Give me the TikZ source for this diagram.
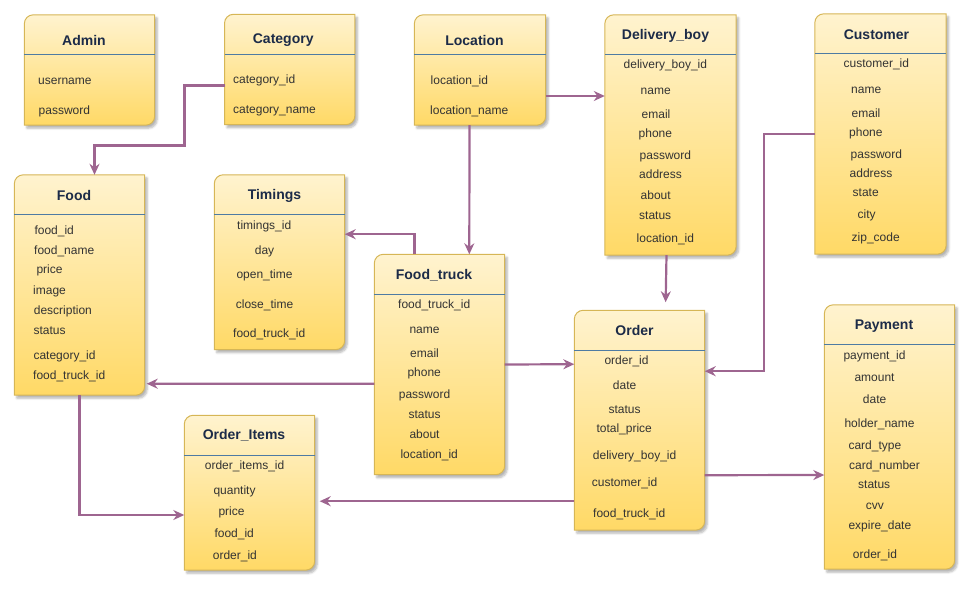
\documentclass[tikz,border=0pt]{standalone}
\usepackage{fontspec}
\setmainfont{Liberation Sans}
\usetikzlibrary{arrows.meta,shadows.blur}
\definecolor{entitytop}{HTML}{FFF3CF}
\definecolor{entitybottom}{HTML}{FFD966}
\definecolor{entityline}{HTML}{D6B656}
\definecolor{sepcolor}{HTML}{4E7BA3}
\definecolor{titlecolor}{HTML}{1C2B48}
\definecolor{attrcolor}{HTML}{333333}
\definecolor{linkcolor}{HTML}{9E6590}
\tikzset{%
  >={Stealth[width=10pt,length=11pt]},
  % Specifications for style of nodes:
       entity/.style = {rectangle, minimum width=130pt, inner sep=0pt},
   entityfill/.style = {draw=entityline, line width=1pt,
                        top color=entitytop, bottom color=entitybottom,
                        blur shadow={shadow xshift=2.5pt, shadow yshift=-3pt,
                                     shadow blur steps=6, shadow opacity=30}},
      sepline/.style = {draw=sepcolor, line width=0.9pt},
       title/.style = {font=\bfseries\fontsize{14}{16}\selectfont, text=titlecolor,
                       yshift=-1pt},
        attr/.style = {anchor=west, inner sep=0pt, text height=8.5pt, text depth=2.5pt,
                       yshift=-1.5pt, font=\fontsize{12}{14}\selectfont, text=attrcolor},
        link/.style = {draw=linkcolor, line width=2.2pt, ->}
}
\begin{document}
\begin{tikzpicture}[x=1pt, y=-1pt]
  \useasboundingbox (0,0) rectangle (972,589);

  \node (admin)       [entity, minimum height=110pt]   at (89.5,70)    {};
  \node (category)    [entity, minimum height=110pt]   at (289.7,69.5) {};
  \node (location)    [entity, minimum height=110pt, minimum width=131pt] at (480,70) {};
  \node (deliveryboy) [entity, minimum height=240pt, minimum width=131pt] at (670.5,135) {};
  \node (customer)    [entity, minimum height=240pt, minimum width=131pt] at (880.5,134) {};
  \node (food)        [entity, minimum height=220pt]   at (79.5,285)   {};
  \node (timings)     [entity, minimum height=174.5pt] at (279.5,262.2) {};
  \node (foodtruck)   [entity, minimum height=220pt]   at (439.5,364.5) {};
  \node (order)       [entity, minimum height=219.5pt] at (639.5,420.2) {};
  \node (payment)     [entity, minimum height=264pt]   at (889.5,437)  {};
  \node (orderitems)  [entity, minimum height=154.5pt] at (249.5,492.7) {};

  % boxes with two rounded corners and the line under the title
  \foreach \n in {admin,category,location,deliveryboy,customer,food,timings,foodtruck,order,payment,orderitems}{
    \path[entityfill] (\n.south west) -- ([yshift=-9pt]\n.north west)
      arc[start angle=180, end angle=90, radius=9pt] -- (\n.north east)
      -- ([yshift=9pt]\n.south east) arc[start angle=0, end angle=-90, radius=9pt] -- cycle;
    \draw[sepline] ([yshift=-40pt]\n.north west) -- ([yshift=-40pt]\n.north east);
  }

  \node (admintitle)       [title] at ([xshift=-5.5pt,yshift=-25pt]admin.north)       {Admin};
  \node (categorytitle)    [title] at ([xshift=-6.5pt,yshift=-24.5pt]category.north)  {Category};
  \node (locationtitle)    [title] at ([xshift=-5.5pt,yshift=-25pt]location.north)    {Location};
  \node (deliveryboytitle) [title] at ([xshift=-5pt,yshift=-20pt]deliveryboy.north)   {Delivery\_boy};
  \node (customertitle)    [title] at ([xshift=-4pt,yshift=-20pt]customer.north)      {Customer};
  \node (foodtitle)        [title] at ([xshift=-5.5pt,yshift=-20pt]food.north)        {Food};
  \node (timingstitle)     [title] at ([xshift=-5pt,yshift=-20.5pt]timings.north)     {Timings};
  \node (foodtrucktitle)   [title] at ([xshift=-5.5pt,yshift=-19.5pt]foodtruck.north) {Food\_truck};
  \node (ordertitle)       [title] at ([xshift=-5pt,yshift=-19.5pt]order.north)       {Order};
  \node (paymenttitle)     [title] at ([xshift=-5.5pt,yshift=-20pt]payment.north)     {Payment};
  \node (orderitemstitle)  [title] at ([xshift=-5.5pt,yshift=-19.5pt]orderitems.north) {Order\_Items};

  % attributes: text/left/middle
  \foreach \t/\x/\y [count=\i] in {username/38/80, password/38.5/109.5}
    \node (admin\i) [attr] at (\x,\y) {\t};
  \foreach \t/\x/\y [count=\i] in {category\_id/233/79, category\_name/233/109}
    \node (category\i) [attr] at (\x,\y) {\t};
  \foreach \t/\x/\y [count=\i] in {location\_id/430.5/80, location\_name/430/110}
    \node (location\i) [attr] at (\x,\y) {\t};
  \foreach \t/\x/\y [count=\i] in {delivery\_boy\_id/623.5/64, name/640.5/90, email/641.5/114,
      phone/638.5/133, password/639.5/155, address/639/174, about/640.5/195,
      status/639/215, location\_id/636.5/238}
    \node (deliveryboy\i) [attr] at (\x,\y) {\t};
  \foreach \t/\x/\y [count=\i] in {customer\_id/843.5/63, name/851/89, email/851.5/113,
      phone/849/132, password/850.5/154, address/849.5/173, state/852.5/192,
      city/857.5/214, zip\_code/851.5/237}
    \node (customer\i) [attr] at (\x,\y) {\t};
  \foreach \t/\x/\y [count=\i] in {food\_id/34.3/229.5, food\_name/34/249.5, price/36.3/269,
      image/33/290, description/33.7/310, status/33.3/330, category\_id/33.3/355,
      food\_truck\_id/33/375}
    \node (food\i) [attr] at (\x,\y) {\t};
  \foreach \t/\x/\y [count=\i] in {timings\_id/237/224.5, day/254.7/250, open\_time/236.3/273.7,
      close\_time/235.7/303.7, food\_truck\_id/233/333}
    \node (timings\i) [attr] at (\x,\y) {\t};
  \foreach \t/\x/\y [count=\i] in {food\_truck\_id/398/303.5, name/409.3/329, email/410/353,
      phone/407.3/372, password/398.7/394, status/408.3/414, about/409.3/434,
      location\_id/400.3/454}
    \node (foodtruck\i) [attr] at (\x,\y) {\t};
  \foreach \t/\x/\y [count=\i] in {order\_id/604.3/360, date/612.7/385, status/608.3/409,
      total\_price/596.3/428, delivery\_boy\_id/592.7/455, customer\_id/591.7/482,
      food\_truck\_id/593/513}
    \node (order\i) [attr] at (\x,\y) {\t};
  \foreach \t/\x/\y [count=\i] in {payment\_id/843.3/354.5, amount/854.3/377, date/862.7/399,
      holder\_name/844.3/423, card\_type/848.3/445, card\_number/849/465, status/858/484,
      cvv/865.7/505, expire\_date/848.3/525, order\_id/852.7/554}
    \node (payment\i) [attr] at (\x,\y) {\t};
  \foreach \t/\x/\y [count=\i] in {order\_items\_id/204.7/465, quantity/213.3/489.5,
      price/218.3/511, food\_id/214.3/533, order\_id/212.7/555}
    \node (orderitems\i) [attr] at (\x,\y) {\t};

  % relations
  \coordinate (catbend) at (184.5,145.5);
  \draw[link] ([yshift=-16pt]category.west) -| (catbend) -| ([xshift=15pt]food.north);
  \draw[link] ([yshift=-26pt]location.east) -- ([yshift=39pt]deliveryboy.west);
  \draw[link] ([xshift=-10.5pt]location.south) -- ([xshift=29.8pt]foodtruck.north);
  \draw[link] ([xshift=-25pt]foodtruck.north) |- ([yshift=28pt]timings.east);
  \draw[link, shorten >=2pt] ([yshift=-19.3pt]foodtruck.west) -- ([yshift=-98.7pt]food.east);
  \draw[link] (food.south) |- ([yshift=-22.3pt]orderitems.west);
  \draw[link] (foodtruck.east) -- ([yshift=56pt]order.west);
  \draw[link, shorten >=8pt] ([xshift=-4pt]deliveryboy.south) -- ([xshift=26pt]order.north);
  \draw[link] (customer.west) -- ++(-50.5,0) |- ([yshift=49pt]order.east);
  \draw[link] ([yshift=-55pt]order.east) -- ([yshift=-38pt]payment.west);
  \draw[link, shorten >=5pt] ([yshift=-81pt]order.west) -- ([yshift=-8.5pt]orderitems.east);
\end{tikzpicture}
\end{document}
